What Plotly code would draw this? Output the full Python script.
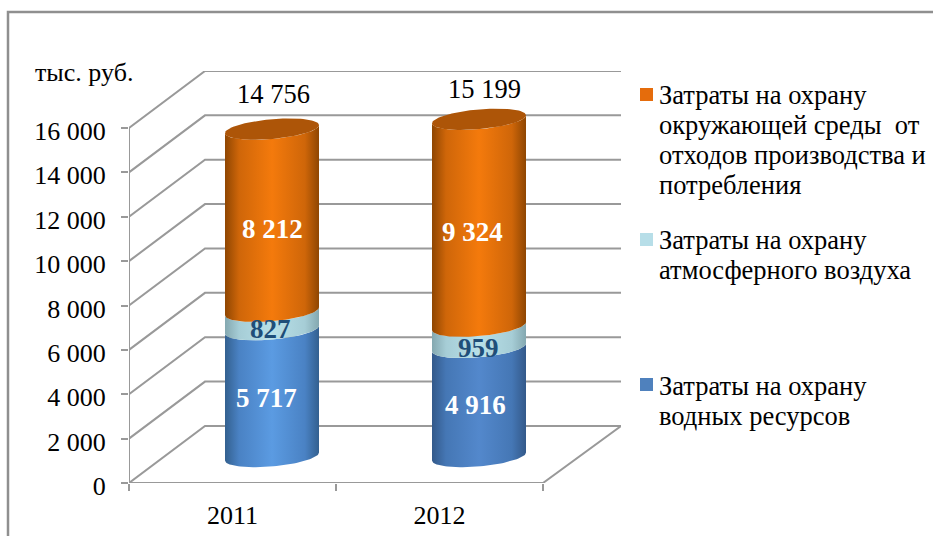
import numpy as np
import plotly.graph_objects as go

# ---- data ----
years = ["2011", "2012"]
water = [5717, 4916]
air = [827, 959]
waste = [8212, 9324]
totals = [14756, 15199]
tick_values = [0, 2000, 4000, 6000, 8000, 10000, 12000, 14000, 16000]
tick_labels = ["0", "2 000", "4 000", "6 000", "8 000", "10 000", "12 000", "14 000", "16 000"]
legend_water = ["Затраты на охрану", "водных ресурсов"]
legend_air = ["Затраты на охрану", "атмосферного воздуха"]
legend_waste = ["Затраты на охрану", "окружающей среды\u00a0 от", "отходов производства и", "потребления"]

def fmt(v):
    return f"{v:,}".replace(",", " ")

# ---- pixel layout of the reproduced picture ----
W, H = 933, 536
L, R, T, B = 129, 621, 71, 483
UNIT_X = 207.0
UNIT_Y = 355.0 / 16000
FONT = "Liberation Serif"
GRID = "#999999"

def ux(px): return px / UNIT_X
def uy(px): return px / UNIT_Y
def paper_x(px): return (px - L) / (R - L)
def paper_y(py): return (B - py) / (B - T)

DEPTH_X, DEPTH_Y = ux(76), uy(57)
BASE_X, BASE_Y = ux(39.5), uy(26.5)
A, B_E, SKEW = ux(47), uy(9.9), uy(4)

fig = go.Figure()

def line(xs, ys):
    fig.add_trace(go.Scatter(x=xs, y=ys, mode="lines", line=dict(color=GRID, width=2),
                             hoverinfo="skip", showlegend=False, cliponaxis=False))

# walls and floor
for v in tick_values:
    line([0, DEPTH_X, ux(R - L)], [v, v + DEPTH_Y, v + DEPTH_Y])
line([0, 0], [0, 16000])
line([0, 2, ux(R - L) , DEPTH_X], [0, 0, DEPTH_Y, DEPTH_Y])

def gradient(edge, mid, centre):
    return dict(type="horizontal",
                colorscale=[[0, edge], [0.15, mid], [0.5, centre], [0.85, mid], [1, edge]])

def arc(cx, level, t):
    return cx + A * np.cos(t), level + SKEW * np.cos(t) + B_E * np.sin(t)

def body(i, lo, hi, colors):
    cx = i + 0.5 + BASE_X
    t_lo = np.linspace(np.pi, 2 * np.pi, 50)
    t_hi = t_lo[::-1]
    x1, y1 = arc(cx, BASE_Y + lo, t_lo)
    x2, y2 = arc(cx, BASE_Y + hi, t_hi)
    fig.add_trace(go.Scatter(
        x=np.r_[x1, x2, x1[0]], y=np.r_[y1, y2, y1[0]], mode="lines", fill="toself",
        line=dict(width=0), fillgradient=gradient(*colors), hoverinfo="skip", showlegend=False))

BLUE = [("#33608F", "#4A82C4", "#5B9BE2"), ("#33598A", "#4577B5", "#5388CC")]
LIGHT = [("#84A8B0", "#A6CDD6", "#B8E0E8"), ("#84A8B0", "#A6CDD6", "#B8E0E8")]
ORANGE = [("#8F4602", "#CF6609", "#F47A0C"), ("#8F4602", "#CF6609", "#F47A0C")]

for i in range(len(years)):
    a = water[i]
    b = a + air[i]
    c = b + waste[i]
    body(i, 0, a, BLUE[i])
    body(i, a, b, LIGHT[i])
    body(i, b, c, ORANGE[i])
    t = np.linspace(0, 2 * np.pi, 90)
    xe, ye = arc(i + 0.5 + BASE_X, BASE_Y + c, t)
    fig.add_trace(go.Scatter(x=xe, y=ye, mode="lines", fill="toself", fillcolor="#AD5508",
                             line=dict(width=0), hoverinfo="skip", showlegend=False))

annotations = []

def note(x, y, text, color, size, bold=False, dx=0, dy=0):
    annotations.append(dict(x=x, y=y, xref="x", yref="y", text=f"<b>{text}</b>" if bold else text,
                            showarrow=False, xshift=dx, yshift=dy,
                            font=dict(family=FONT, size=size, color=color)))

VALUE_NUDGE = {  # small pixel offsets of the value captions
    "water": [(-6, -5), (-4, -3)], "air": [(-2, -9), (-1, -11)], "waste": [(0, -9), (-7, -9)],
}
for i in range(len(years)):
    cx = i + 0.5 + BASE_X
    note(cx, BASE_Y + water[i] / 2, fmt(water[i]), "white", 27, True, *VALUE_NUDGE["water"][i])
    note(cx, BASE_Y + water[i] + air[i] / 2, fmt(air[i]), "#1F4E79", 27, True, *VALUE_NUDGE["air"][i])
    note(cx, BASE_Y + water[i] + air[i] + waste[i] / 2, fmt(waste[i]), "white", 27, True, *VALUE_NUDGE["waste"][i])
note(0.5 + BASE_X, BASE_Y + totals[0], fmt(totals[0]), "black", 26.5, dx=1, dy=35)
note(1.5 + BASE_X, BASE_Y + totals[1], fmt(totals[1]), "black", 26.5, dx=5, dy=30)

def label(px, py, text, size=26.5):
    annotations.append(dict(x=paper_x(px), y=paper_y(py), xref="paper", yref="paper", text=text,
                            xanchor="left", yanchor="middle", align="left", showarrow=False,
                            borderpad=0, font=dict(family=FONT, size=size, color="black")))

label(34, 72, "тыс. руб.", 26)
for start, lines in [(95, legend_waste), (240, legend_air), (386, legend_water)]:
    for k, text in enumerate(lines):
        label(658, start + k * 30, text)

shapes = [dict(type="path", xref="paper", yref="paper",
               path=f"M {paper_x(8)} {paper_y(536)} L {paper_x(8)} {paper_y(12)} L {paper_x(933)} {paper_y(12)}",
               line=dict(color="#8F8F8F", width=2.5), layer="below")]
for py, col in [(94.5, "#E56C0C"), (239.5, "#B7DEE8"), (384.5, "#4F81BD")]:
    shapes.append(dict(type="rect", xref="paper", yref="paper",
                       x0=paper_x(640), x1=paper_x(653), y0=paper_y(py - 6.5), y1=paper_y(py + 6.5),
                       fillcolor=col, line=dict(width=0)))

fig.update_layout(
    width=W, height=H, margin=dict(l=L, r=W - R, t=T, b=H - B, pad=0, autoexpand=False),
    paper_bgcolor="white", plot_bgcolor="white", showlegend=False,
    annotations=annotations, shapes=shapes,
    font=dict(family=FONT, color="black"),
    xaxis=dict(range=[0, ux(R - L)], tickmode="array", tickvals=[0.5, 1.5], ticktext=years,
               ticks="", showgrid=False, zeroline=False, showline=False, ticklabelstandoff=14,
               automargin=False,
               tickfont=dict(family=FONT, size=26, color="black"),
               minor=dict(tickmode="array", tickvals=[0, 1, 2], ticks="outside", ticklen=7,
                          tickwidth=2, tickcolor=GRID, showgrid=False)),
    yaxis=dict(range=[0, (B - T) / UNIT_Y], tickmode="array", tickvals=tick_values, ticktext=tick_labels,
               ticks="outside", ticklen=7, tickwidth=2, tickcolor=GRID, showgrid=False,
               zeroline=False, showline=False, ticklabelstandoff=10, ticklabelshift=3,
               automargin=False,
               tickfont=dict(family=FONT, size=26, color="black")),
)
fig.write_html("out.html", post_script="document.body.style.margin='0';",
               config={"displayModeBar": False})
